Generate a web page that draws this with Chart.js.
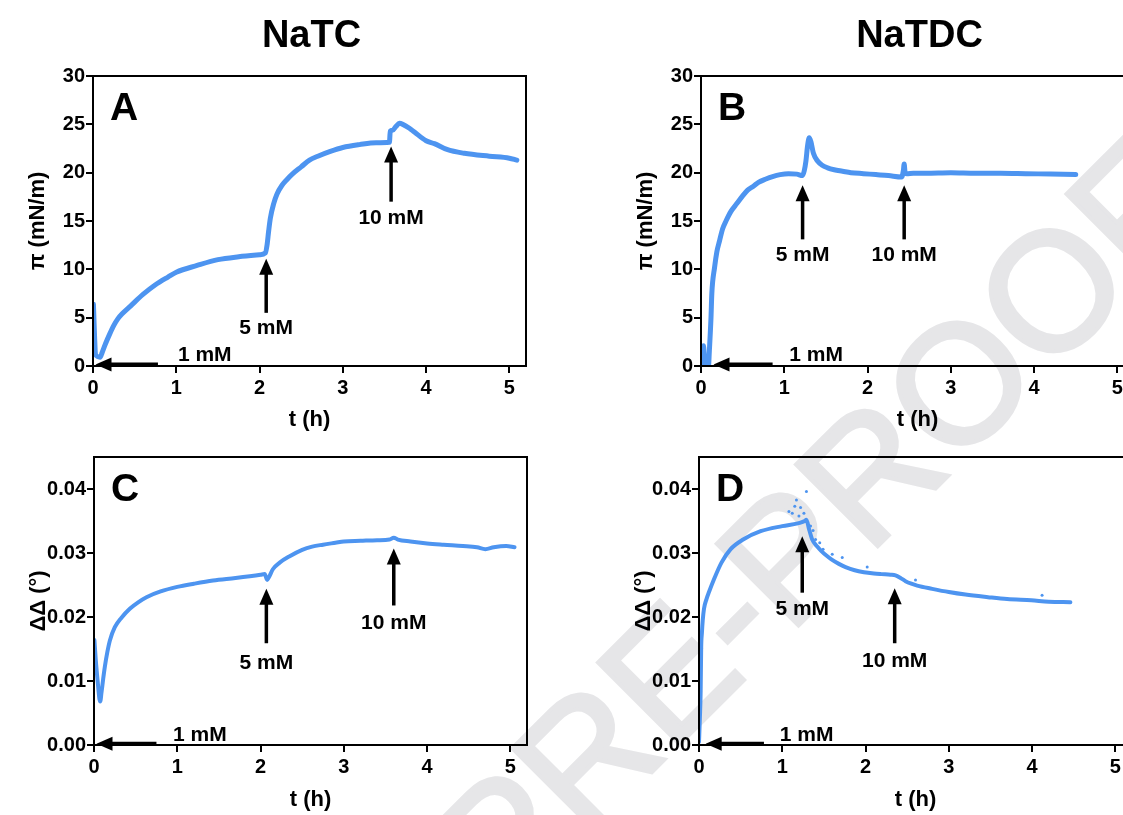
<!DOCTYPE html>
<html><head><meta charset="utf-8">
<script src="https://cdn.jsdelivr.net/npm/chart.js@4.4.0/dist/chart.umd.min.js"></script>
<style>
html,body{margin:0;padding:0;background:#fff;overflow:hidden;width:1123px;height:815px;position:relative;}
canvas{position:absolute;display:block;}
</style></head><body>
<canvas id="wm" width="1123" height="815" style="left:0;top:0"></canvas>
<canvas id="cA" width="545" height="440" style="left:0;top:0"></canvas>
<canvas id="cB" width="545" height="440" style="left:608px;top:0"></canvas>
<canvas id="cC" width="545" height="375" style="left:1px;top:440px"></canvas>
<canvas id="cD" width="545" height="375" style="left:606px;top:440px"></canvas>
<script>
// ---------- data ----------
const xTickValues = [0, 1, 2, 3, 4, 5];
const piTickValues = [0, 5, 10, 15, 20, 25, 30];
const ddTickValues = [0, 0.01, 0.02, 0.03, 0.04];

// Panel A : NaTC, surface pressure
const tA = [0.005,0.01,0.02,0.03,0.05,0.086,0.11,0.15,0.2,0.25,0.3,0.35,0.45,0.6,0.75,0.9,1.0,1.25,1.5,1.75,2.0,2.07,2.09,2.11,2.13,2.17,2.21,2.27,2.33,2.4,2.5,2.6,2.7,2.85,3.0,3.2,3.4,3.56,3.57,3.6,3.64,3.68,3.72,3.8,3.86,4.0,4.1,4.25,4.46,4.76,5.0,5.09];
const piA = [6.4,5.2,2.8,1.2,1.0,0.9,1.4,2.3,3.3,4.2,4.9,5.4,6.2,7.4,8.4,9.2,9.7,10.4,11.0,11.3,11.5,11.7,12.5,14.0,15.3,16.8,17.8,18.7,19.3,19.9,20.6,21.3,21.7,22.2,22.6,22.9,23.1,23.15,24.3,24.4,24.8,25.1,25.0,24.6,24.2,23.3,23.0,22.4,22.0,21.7,21.5,21.3];

// Panel B : NaTDC, surface pressure
const tB = [0.02,0.03,0.04,0.05,0.07,0.09,0.1,0.12,0.13,0.163,0.19,0.224,0.26,0.3,0.36,0.43,0.5,0.56,0.63,0.69,0.78,0.86,0.95,1.05,1.15,1.22,1.24,1.26,1.28,1.3,1.32,1.35,1.4,1.45,1.52,1.6,1.7,1.8,1.95,2.1,2.25,2.41,2.43,2.44,2.45,2.47,2.55,2.7,3.0,3.3,3.6,3.9,4.2,4.5];
const piB = [0.0,2.1,1.0,0.0,0.0,0.0,1.5,5.0,7.5,10.2,11.8,13.0,14.2,15.0,16.0,16.8,17.6,18.2,18.6,19.0,19.35,19.6,19.8,19.9,19.85,19.7,20.2,21.2,22.8,23.6,23.2,22.0,21.2,20.8,20.5,20.3,20.15,20.0,19.9,19.8,19.7,19.55,20.2,20.9,20.1,19.9,19.95,19.95,20.0,19.95,19.95,19.9,19.85,19.8];

// Panel C : NaTC, ellipsometric angle change
const tC = [0.005,0.02,0.035,0.05,0.065,0.075,0.09,0.11,0.13,0.16,0.19,0.25,0.33,0.43,0.53,0.63,0.8,1.0,1.2,1.43,1.7,2.0,2.05,2.08,2.1,2.15,2.23,2.35,2.5,2.62,2.75,2.9,3.0,3.2,3.4,3.55,3.6,3.65,3.8,4.0,4.2,4.43,4.6,4.7,4.8,4.95,5.05];
const ddC = [0.0164,0.0135,0.0112,0.0091,0.0072,0.0068,0.0082,0.0103,0.0122,0.0145,0.0163,0.0184,0.0199,0.0213,0.0223,0.0231,0.024,0.0247,0.0252,0.0257,0.0261,0.0266,0.0267,0.0258,0.0262,0.0275,0.0285,0.0295,0.0305,0.031,0.0313,0.0316,0.0318,0.0319,0.032,0.0321,0.0324,0.0321,0.0318,0.0315,0.0313,0.0311,0.0309,0.0306,0.0309,0.0311,0.0309];

// Panel D : NaTDC, ellipsometric angle change
const tD = [0.0,0.01,0.02,0.026,0.035,0.045,0.06,0.09,0.12,0.18,0.27,0.38,0.53,0.74,1.0,1.21,1.27,1.29,1.32,1.36,1.42,1.47,1.53,1.59,1.68,1.76,1.87,1.98,2.1,2.19,2.3,2.36,2.42,2.48,2.55,2.62,2.8,3.0,3.2,3.47,3.7,3.99,4.2,4.46];
const ddD = [0.0005,0.004,0.0085,0.0151,0.0175,0.0195,0.0213,0.0228,0.0239,0.0259,0.0285,0.0306,0.0321,0.0334,0.0342,0.0347,0.035,0.0352,0.0338,0.0321,0.031,0.0303,0.0296,0.029,0.0283,0.0278,0.0273,0.027,0.0268,0.0267,0.0266,0.0265,0.0261,0.0256,0.0252,0.0249,0.0244,0.0239,0.0235,0.0231,0.0228,0.0226,0.0224,0.0223];
const tDscatter = [1.08,1.12,1.15,1.17,1.2,1.22,1.26,1.29,1.34,1.37,1.40,1.45,1.49,1.6,1.72,2.02,2.6,4.12];
const ddDscatter = [0.0365,0.0362,0.0373,0.0383,0.0358,0.0371,0.0362,0.0396,0.0342,0.0335,0.0321,0.0316,0.0306,0.0298,0.0293,0.0278,0.0258,0.0234];

// Annotations (data coordinates): tip of arrow, tail, and label anchor
const arrowText = ['1 mM', '5 mM', '10 mM'];
const arrowTipXA = [0.03, 2.08, 3.58],  arrowTipYA = [0.15, 11.1, 22.7],  arrowTailA = [0.78, 5.5, 17.0];
const labelXA = [1.02, 2.08, 3.58],     labelYA = [1.1, 3.9, 15.3];
const arrowTipXB = [0.15, 1.22, 2.44],  arrowTipYB = [0.15, 18.7, 18.7],  arrowTailB = [0.86, 13.1, 13.1];
const labelXB = [1.06, 1.22, 2.44],     labelYB = [1.1, 11.5, 11.5];
const arrowTipXC = [0.03, 2.07, 3.6],   arrowTipYC = [0.0002, 0.0244, 0.0307], arrowTailC = [0.75, 0.0159, 0.0218];
const labelXC = [0.95, 2.07, 3.6],      labelYC = [0.0016, 0.0128, 0.019];
const arrowTipXD = [0.08, 1.24, 2.35],  arrowTipYD = [0.0002, 0.0326, 0.0245], arrowTailD = [0.78, 0.0238, 0.0159];
const labelXD = [0.97, 1.24, 2.35],     labelYD = [0.0016, 0.0212, 0.0131];

// ---------- drawing ----------
const FONT = "'Liberation Sans', Arial, Helvetica, sans-serif";
const BLUE = '#4d94f0';
Chart.defaults.font.family = FONT;
Chart.defaults.color = '#000';

// watermark
(function(){
  const c = document.getElementById('wm').getContext('2d');
  c.save();
  c.translate(858, 566);
  c.rotate(-Math.PI/4);
  c.font = "168px " + FONT;
  c.fillStyle = '#e6e6e8';
  c.strokeStyle = '#e6e6e8';
  c.lineWidth = 4;
  c.lineJoin = 'miter';
  c.textAlign = 'center';
  c.textBaseline = 'alphabetic';
  c.fillText('PRE-PROOF', 0, 0);
  c.strokeText('PRE-PROOF', 0, 0);
  c.restore();
})();

const deco = {
  id: 'deco',
  afterDatasetsDraw(chart, args, o) {
    const {ctx, chartArea: a, scales: {x, y}} = chart;
    ctx.save();
    ctx.strokeStyle = '#000';
    ctx.lineWidth = 2;
    ctx.strokeRect(a.left, a.top, a.right - a.left, a.bottom - a.top);
    ctx.fillStyle = '#000';
    if (o.heading) {
      ctx.font = "bold 38px " + FONT;
      ctx.textAlign = 'center';
      ctx.textBaseline = 'alphabetic';
      ctx.fillText(o.heading, (a.left + a.right) / 2 + 2, a.top - 29);
    }
    ctx.font = "bold 39px " + FONT;
    ctx.textAlign = 'left';
    ctx.textBaseline = 'alphabetic';
    ctx.fillText(o.letter, a.left + 17, a.top + 44);
    // arrows
    for (let i = 0; i < o.text.length; i++) {
      const tipX = x.getPixelForValue(o.tipX[i]);
      const tipY = y.getPixelForValue(o.tipY[i]);
      ctx.beginPath();
      if (i === 0) {
        const tailX = x.getPixelForValue(o.tail[i]);
        ctx.lineWidth = 4;
        ctx.moveTo(tailX, tipY); ctx.lineTo(tipX + 12, tipY); ctx.stroke();
        ctx.beginPath();
        ctx.moveTo(tipX, tipY); ctx.lineTo(tipX + 16, tipY - 7); ctx.lineTo(tipX + 16, tipY + 7); ctx.closePath(); ctx.fill();
      } else {
        const tailY = y.getPixelForValue(o.tail[i]);
        ctx.lineWidth = 3.5;
        ctx.moveTo(tipX, tailY); ctx.lineTo(tipX, tipY + 12); ctx.stroke();
        ctx.beginPath();
        ctx.moveTo(tipX, tipY); ctx.lineTo(tipX - 7, tipY + 16); ctx.lineTo(tipX + 7, tipY + 16); ctx.closePath(); ctx.fill();
      }
      ctx.font = "bold 21px " + FONT;
      ctx.textAlign = i === 0 ? 'left' : 'center';
      ctx.textBaseline = 'middle';
      ctx.fillText(o.text[i], x.getPixelForValue(o.lx[i]), y.getPixelForValue(o.ly[i]));
    }
    ctx.restore();
  }
};

function scales(yTicks, yMax, yTitle, fmt, xH, xTitlePad, yTitlePad) {
  const gridCfg = {display: true, drawOnChartArea: false, drawTicks: true, tickLength: 7, color: '#000', lineWidth: 2};
  return {
    x: {
      type: 'linear', min: 0, max: 5.2,
      afterBuildTicks: s => { s.ticks = xTickValues.map(v => ({value: v})); },
      afterFit: s => { s.height = xH; },
      grid: gridCfg,
      border: {display: true, color: '#000', width: 2},
      ticks: {color: '#000', font: {size: 20, weight: 'bold'}, padding: 3, maxRotation: 0, autoSkip: false},
      title: {display: true, text: 't (h)', color: '#000', font: {size: 22, weight: 'bold'}, padding: {top: 0, bottom: xTitlePad}}
    },
    y: {
      type: 'linear', min: 0, max: yMax,
      afterBuildTicks: s => { s.ticks = yTicks.map(v => ({value: v})); },
      afterFit: s => { s.width = 93; },
      grid: gridCfg,
      border: {display: true, color: '#000', width: 2},
      ticks: {color: '#000', font: {size: 20, weight: 'bold'}, padding: 1, autoSkip: false, callback: fmt},
      title: {display: true, text: yTitle, color: '#000', font: {size: 22, weight: 'bold'}, padding: {top: yTitlePad, bottom: 0}}
    }
  };
}

function makeChart(id, datasets, sc, padTop, deco0) {
  return new Chart(document.getElementById(id), {
    type: 'scatter',
    data: {datasets},
    options: {
      responsive: false, animation: false,
      layout: {padding: {top: padTop, right: 19, left: 0, bottom: 0}},
      plugins: {legend: {display: false}, tooltip: {enabled: false}, deco: deco0},
      scales: sc
    },
    plugins: [deco]
  });
}

const pts = (xs, ys) => xs.map((v, i) => ({x: v, y: ys[i]}));
const lineDs = (xs, ys, w) => ({data: pts(xs, ys), showLine: true, borderColor: BLUE, backgroundColor: BLUE, borderWidth: w, pointRadius: 0, cubicInterpolationMode: 'monotone', borderJoinStyle: 'round', borderCapStyle: 'round'});
const fmtPi = v => String(v);
const fmtDd = v => Number(v).toFixed(2);

makeChart('cA', [lineDs(tA, piA, 5)], scales(piTickValues, 30, 'π (mN/m)', fmtPi, 74, 7, 25), 76,
  {heading: 'NaTC', letter: 'A', text: arrowText, tipX: arrowTipXA, tipY: arrowTipYA, tail: arrowTailA, lx: labelXA, ly: labelYA});
makeChart('cB', [lineDs(tB, piB, 5)], scales(piTickValues, 30, 'π (mN/m)', fmtPi, 74, 7, 25), 76,
  {heading: 'NaTDC', letter: 'B', text: arrowText, tipX: arrowTipXB, tipY: arrowTipYB, tail: arrowTailB, lx: labelXB, ly: labelYB});
makeChart('cC', [lineDs(tC, ddC, 4)], scales(ddTickValues, 0.045, 'ΔΔ (°)', fmtDd, 70, 2, 25), 17,
  {letter: 'C', text: arrowText, tipX: arrowTipXC, tipY: arrowTipYC, tail: arrowTailC, lx: labelXC, ly: labelYC});
makeChart('cD', [lineDs(tD, ddD, 4), {data: pts(tDscatter, ddDscatter), showLine: false, pointRadius: 1.5, pointBorderWidth: 0, backgroundColor: BLUE}],
  scales(ddTickValues, 0.045, 'ΔΔ (°)', fmtDd, 70, 2, 25), 17,
  {letter: 'D', text: arrowText, tipX: arrowTipXD, tipY: arrowTipYD, tail: arrowTailD, lx: labelXD, ly: labelYD});
</script>
</body></html>
